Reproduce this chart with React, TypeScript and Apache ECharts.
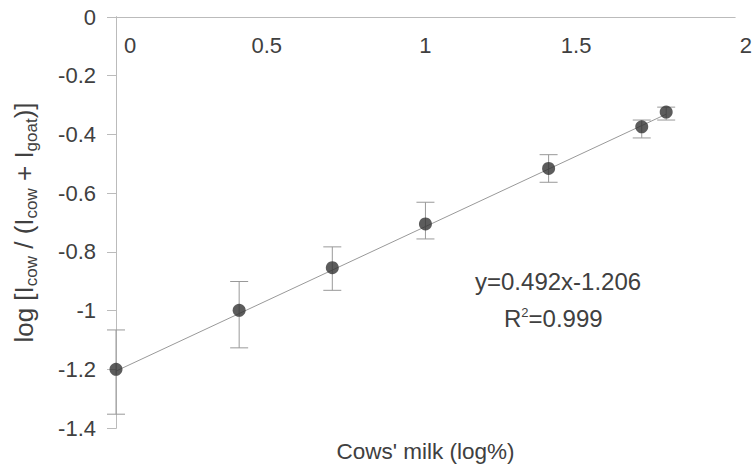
import React, { useEffect, useRef } from "react";
import * as echarts from "echarts";

// Data
const xLog = [0, 0.398, 0.699, 1.0, 1.398, 1.699, 1.778];
const yMean = [-1.2, -0.999, -0.854, -0.705, -0.516, -0.374, -0.324];
const yHigh = [-1.066, -0.901, -0.783, -0.631, -0.469, -0.351, -0.307];
const yLow = [-1.353, -1.127, -0.931, -0.756, -0.563, -0.412, -0.351];
const trendX = [0, 1.778];
const trendY = [-1.206, -0.331];
const equationText = "y=0.492x-1.206";
const r2Text = "R{sup|2}=0.999";

const FONT = "'Liberation Sans', Arial, Helvetica, sans-serif";
const TXT = "#404040";

export default function App() {
  const ref = useRef<HTMLDivElement>(null);
  useEffect(() => {
    if (!ref.current) return;
    const chart = echarts.init(ref.current, undefined, { renderer: "svg" });
    const points = xLog.map((x, i) => [x, yMean[i]]);
    const errs = xLog.map((x, i) => [x, yLow[i], yHigh[i]]);
    const trend = trendX.map((x, i) => [x, trendY[i]]);
    chart.setOption({
      animation: false,
      textStyle: { fontFamily: FONT },
      grid: { left: 113, top: 17, right: 16, bottom: 36, containLabel: false },
      xAxis: [
        {
          type: "value",
          position: "top",
          min: 0,
          max: 2,
          interval: 0.5,
          axisLine: { show: true, lineStyle: { color: "#999", width: 1 } },
          axisTick: { show: false },
          splitLine: { show: false },
          axisLabel: {
            inside: true,
            margin: 17,
            color: TXT,
            fontSize: 22,
            fontFamily: FONT,
            formatter: (v: number) =>
              v === 0
                ? "{l|0}"
                : v === 2
                ? "{r|2}"
                : v === 1
                ? "{n|1}"
                : "{m|" + v + "}",
            rich: {
              l: { fontSize: 22, color: TXT, padding: [0, 0, 0, 28] },
              r: { fontSize: 22, color: TXT, padding: [0, 0, 0, 22] },
              m: { fontSize: 22, color: TXT, padding: [0, 8, 0, 0] },
              n: { fontSize: 22, color: TXT },
            },
          },
        },
        {
          type: "value",
          position: "bottom",
          min: 0,
          max: 2,
          interval: 0.5,
          axisLine: { show: true, lineStyle: { color: "#bbb", width: 1 } },
          axisTick: { show: false },
          axisLabel: { show: false },
          splitLine: { show: false },
          name: "Cows' milk (log%)",
          nameLocation: "middle",
          nameGap: 12,
          nameTextStyle: { fontSize: 22.5, color: TXT, fontFamily: FONT },
        },
      ],
      yAxis: [
        {
          type: "value",
          position: "left",
          min: -1.4,
          max: 0,
          interval: 0.2,
          axisLine: { show: true, lineStyle: { color: "#999", width: 1 } },
          axisTick: { show: true, length: 9, lineStyle: { color: "#bbb" } },
          splitLine: { show: false },
          axisLabel: { margin: 20, color: TXT, fontSize: 22, fontFamily: FONT },
          name: "log [I{sub|cow} / (I{sub|cow} + I{sub|goat})]",
          nameLocation: "middle",
          nameGap: 76,
          nameTextStyle: {
            fontSize: 26,
            color: TXT,
            fontFamily: FONT,
            lineHeight: 32,
            rich: {
              sub: {
                fontSize: 17,
                color: TXT,
                fontFamily: FONT,
                lineHeight: 17,
                verticalAlign: "bottom",
              },
            },
          },
        },
        {
          type: "value",
          position: "right",
          min: -1.4,
          max: 0,
          interval: 0.2,
          axisLine: { show: true, lineStyle: { color: "#bbb", width: 1 } },
          axisTick: { show: false },
          axisLabel: { show: false },
          splitLine: { show: false },
        },
      ],
      graphic: [
        {
          type: "text",
          left: 475,
          top: 269,
          style: { text: equationText, font: `24px ${FONT}`, fill: TXT },
        },
        {
          type: "text",
          left: 504,
          top: 306,
          style: {
            text: r2Text,
            font: `24px ${FONT}`,
            fill: TXT,
            rich: {
              sup: { fontSize: 13, fill: TXT, verticalAlign: "top", lineHeight: 13, fontFamily: FONT },
            },
          },
        },
      ],
      series: [
        {
          type: "line",
          data: trend,
          xAxisIndex: 0,
          yAxisIndex: 0,
          symbol: "none",
          silent: true,
          lineStyle: { color: "#999", width: 1 },
          z: 1,
        },
        {
          type: "custom",
          xAxisIndex: 0,
          yAxisIndex: 0,
          data: errs,
          silent: true,
          clip: false,
          z: 2,
          renderItem: (params: any, api: any) => {
            const x = api.value(0);
            const lo = api.coord([x, api.value(1)]);
            const hi = api.coord([x, api.value(2)]);
            const hw = 9;
            const style = { stroke: "#999", lineWidth: 1 };
            return {
              type: "group",
              children: [
                { type: "line", shape: { x1: lo[0], y1: lo[1], x2: hi[0], y2: hi[1] }, style },
                { type: "line", shape: { x1: lo[0] - hw, y1: lo[1], x2: lo[0] + hw, y2: lo[1] }, style },
                { type: "line", shape: { x1: hi[0] - hw, y1: hi[1], x2: hi[0] + hw, y2: hi[1] }, style },
              ],
            };
          },
        },
        {
          type: "scatter",
          xAxisIndex: 0,
          yAxisIndex: 0,
          data: points,
          symbol: "circle",
          symbolSize: 13,
          clip: false,
          itemStyle: { color: "#333" },
          z: 3,
        },
      ],
    });
    return () => chart.dispose();
  }, []);
  return (
    <div
      ref={ref}
      style={{ position: "fixed", left: 0, top: 0, width: 755, height: 468, background: "#fff" }}
    />
  );
}
